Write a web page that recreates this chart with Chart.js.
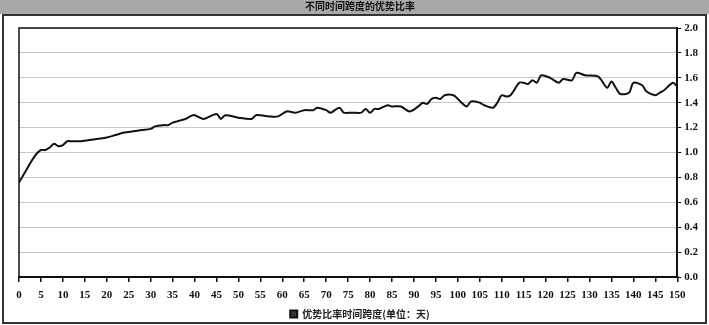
<!DOCTYPE html>
<html>
<head>
<meta charset="utf-8">
<script src="https://cdn.jsdelivr.net/npm/chart.js@4.4.1/dist/chart.umd.min.js"></script>
<style>
  html, body { margin: 0; padding: 0; background: #ffffff; }
  #wrap { width: 709px; height: 325px; position: relative; }
</style>
</head>
<body>
<div id="wrap"><canvas id="ratioChart" width="709" height="325"></canvas></div>
<script>
// 时间跨度（天）与优势比率
const days = [0, 1, 2, 3, 4, 5, 6, 7, 8, 9, 10, 11, 12, 14, 16, 18, 20, 22, 24, 26, 28, 30, 31, 33, 34, 35, 36, 37, 38, 39, 40,
    42, 45, 46, 47, 50, 53, 54, 57, 59, 61, 63, 65, 67, 68, 70, 71, 73, 74, 76, 78, 79, 80, 81, 82, 84, 85, 87, 89,
    91, 92, 93, 94, 95, 96, 97, 99, 100, 102, 103, 105, 106, 108, 109, 110, 111, 112, 114, 115, 116, 117, 118, 119,
    121, 123, 124, 126, 127, 129, 132, 134, 135, 136, 137, 139, 140, 142, 143, 145, 146, 147, 149, 150];
const ratios = [0.76, 0.82, 0.88, 0.94, 0.99, 1.02, 1.02, 1.04, 1.07, 1.05, 1.06, 1.09, 1.09, 1.09, 1.10, 1.11, 1.12, 1.14, 1.16, 1.17, 1.18, 1.19, 1.21, 1.22, 1.22, 1.24, 1.25, 1.26, 1.27, 1.29, 1.30,
    1.27, 1.31, 1.27, 1.30, 1.28, 1.27, 1.30, 1.29, 1.29, 1.33, 1.32, 1.34, 1.34, 1.36, 1.34, 1.32, 1.36, 1.32, 1.32, 1.32, 1.35, 1.32, 1.35, 1.35, 1.38, 1.37, 1.37, 1.33,
    1.37, 1.40, 1.39, 1.43, 1.44, 1.43, 1.46, 1.46, 1.43, 1.37, 1.41, 1.40, 1.38, 1.36, 1.40, 1.46, 1.45, 1.46, 1.56, 1.56, 1.55, 1.58, 1.56, 1.62,
    1.60, 1.56, 1.59, 1.58, 1.64, 1.62, 1.61, 1.52, 1.57, 1.52, 1.47, 1.48, 1.56, 1.54, 1.49, 1.46, 1.48, 1.50, 1.56, 1.53];
const yTicks = [0.0, 0.2, 0.4, 0.6, 0.8, 1.0, 1.2, 1.4, 1.6, 1.8, 2.0];

const chartTitle = '不同时间跨度的优势比率';
const seriesName = '优势比率时间跨度(单位：天)';

const frame = {
    id: 'frame',
    beforeDraw(chart) {
        const c = chart.ctx;
        c.save();
        c.fillStyle = '#ffffff';
        c.fillRect(0, 0, chart.width, chart.height);
        // 标题栏
        c.fillStyle = '#a9a9a9';
        c.fillRect(0, 0, chart.width, 14);
        c.strokeStyle = '#333';
        c.lineWidth = 2;
        c.strokeRect(3, 15, chart.width - 6, chart.height - 17);
        c.restore();
    },
    afterDatasetsDraw(chart) {
        const a = chart.chartArea;
        const c = chart.ctx;
        c.save();
        c.strokeStyle = '#111';
        c.lineWidth = 1.5;
        c.strokeRect(a.left, a.top, a.right - a.left, a.bottom - a.top);
        c.restore();
    }
};

new Chart(document.getElementById('ratioChart'), {
    type: 'line',
    data: {
        datasets: [{
            label: seriesName,
            data: days.map((d, i) => ({ x: d, y: ratios[i] })),
            borderColor: '#111111',
            backgroundColor: '#333333',
            borderWidth: 2,
            pointRadius: 0,
            tension: 0.3,
            fill: false
        }]
    },
    options: {
        responsive: false,
        animation: false,
        layout: { padding: { left: 19, right: 8, top: 0, bottom: -4 } },
        plugins: {
            title: {
                display: true,
                text: chartTitle,
                color: '#111',
                font: { family: 'Noto Sans CJK SC', size: 10, weight: 'bold' },
                padding: { top: 0, bottom: 16 }
            },
            legend: {
                position: 'bottom',
                labels: {
                    boxWidth: 7,
                    boxHeight: 7,
                    color: '#222',
                    font: { family: 'Noto Sans CJK SC', size: 10, weight: 'bold', lineHeight: 1 },
                    padding: 0
                }
            },
            tooltip: { enabled: false }
        },
        scales: {
            x: {
                type: 'linear',
                min: 0,
                max: 150,
                grid: { drawOnChartArea: false, drawTicks: true, tickLength: 5, color: '#111', lineWidth: 1.5 },
                border: { display: true, color: '#111', width: 2 },
                ticks: {
                    stepSize: 5,
                    maxRotation: 0,
                    autoSkip: false,
                    padding: 8,
                    color: '#111',
                    font: { family: 'Liberation Serif', size: 11, weight: 'bold', lineHeight: 1 }
                }
            },
            y: {
                position: 'right',
                min: 0,
                max: 2.0,
                afterBuildTicks: axis => { axis.ticks = yTicks.map(v => ({ value: v })); },
                grid: { color: '#c8c8c8', lineWidth: 1, tickLength: 4, tickColor: '#111' },
                border: { display: true, color: '#111', width: 2 },
                ticks: {
                    padding: 3,
                    color: '#111',
                    font: { family: 'Liberation Serif', size: 11, weight: 'bold' },
                    callback: v => Number(v).toFixed(1)
                }
            }
        }
    },
    plugins: [frame]
});
</script>
</body>
</html>
